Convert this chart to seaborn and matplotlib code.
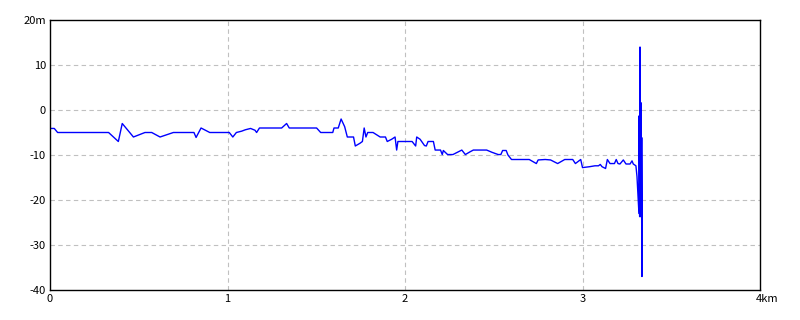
import matplotlib
matplotlib.use("Agg")
import matplotlib.pyplot as plt
import matplotlib.transforms as mtransforms
import seaborn as sns
import pandas as pd

distance_km = [0, 0.024, 0.043, 0.33, 0.385, 0.407, 0.47, 0.535, 0.573, 0.62, 0.695, 0.811, 0.823, 0.851,
               0.90, 1.01, 1.03, 1.05, 1.08, 1.10, 1.13, 1.155, 1.164, 1.18, 1.305, 1.333, 1.348, 1.502,
               1.525, 1.593, 1.60, 1.624, 1.64, 1.66, 1.675, 1.71, 1.72, 1.746, 1.76, 1.77, 1.78, 1.79,
               1.82, 1.86, 1.89, 1.90, 1.925, 1.944, 1.953, 1.96, 2.04, 2.06, 2.066, 2.085, 2.11, 2.12,
               2.13, 2.16, 2.17, 2.20, 2.21, 2.216, 2.24, 2.27, 2.31, 2.32, 2.34, 2.366, 2.385, 2.46,
               2.49, 2.525, 2.54, 2.55, 2.57, 2.58, 2.60, 2.70, 2.74, 2.75, 2.79, 2.82, 2.86, 2.90,
               2.945, 2.96, 2.99, 3.0, 3.04, 3.07, 3.09, 3.10, 3.11, 3.13, 3.14, 3.155, 3.18, 3.19,
               3.20, 3.211, 3.23, 3.245, 3.268, 3.279, 3.286, 3.301, 3.307, 3.318, 3.319, 3.322,
               3.324, 3.327, 3.330, 3.335, 3.336]
elevation_m = [-4.1, -4.1, -5, -5, -7, -3, -6, -5, -5, -6, -5, -5, -6.1, -4,
               -5, -5, -6, -5, -4.7, -4.4, -4.1, -4.5, -5, -4, -4, -3, -4, -4,
               -5, -5, -4, -4, -2, -3.7, -6, -6, -8, -7.4, -7, -4, -6, -5,
               -5, -6, -6, -7, -6.5, -6, -8.9, -7, -7, -8, -6, -6.5, -7.9, -8,
               -7, -7, -8.9, -8.9, -9.9, -9, -9.9, -9.9, -9.1, -8.9, -9.9, -9.3, -8.9, -8.9,
               -9.4, -9.9, -9.9, -9, -9, -10, -11, -11, -11.9, -11.1, -11, -11.1, -11.9, -11,
               -11, -11.9, -11, -12.8, -12.6, -12.4, -12.4, -12.1, -12.6, -13, -11, -11.9, -11.9, -11,
               -11.9, -12, -11.1, -12, -12, -11.3, -12, -12.4, -14.8, -23, -1.3, -23.7,
               14, -23.7, 1.6, -37, -6.2]

x_ticks = [0, 1, 2, 3, 4]
x_labels = ["0", "1", "2", "3", "4km"]
y_ticks = [-40, -30, -20, -10, 0, 10, 20]
y_labels = ["-40", "-30", "-20", "-10", "0", "10", "20m"]

df = pd.DataFrame({"d": distance_km, "e": elevation_m})

sns.set_style("white")
plt.rcParams["font.family"] = ["Noto Sans CJK JP", "DejaVu Sans"]

fig = plt.figure(figsize=(8, 3.2), dpi=100)
ax = fig.add_axes([50 / 800, 30 / 320, 710 / 800, 270 / 320])
sns.lineplot(data=df, x="d", y="e", sort=False, color="#0000ff", linewidth=1.0, ax=ax)

ax.set_xlim(0, 4)
ax.set_ylim(-40, 20)
ax.set_xticks(x_ticks)
ax.set_xticklabels(x_labels)
ax.set_yticks(y_ticks)
ax.set_yticklabels(y_labels)
ax.set_xlabel("")
ax.set_ylabel("")
ax.tick_params(axis="both", length=0, labelsize=8, pad=3, colors="black")

# last x label: the number sits on the tick, the unit extends to the right
last = ax.get_xticklabels()[-1]
last.set_horizontalalignment("left")
last.set_transform(last.get_transform() + mtransforms.ScaledTranslation(-3 / 72, 0, fig.dpi_scale_trans))

for v in [1, 2, 3]:
    ax.axvline(v, color="#c0c0c0", linestyle=(0, (4, 3)), linewidth=0.8, zorder=0)
for v in [-30, -20, -10, 0, 10]:
    ax.axhline(v, color="#c0c0c0", linestyle=(0, (4, 3)), linewidth=0.8, zorder=0)

for s in ax.spines.values():
    s.set_visible(True)
    s.set_color("black")
    s.set_linewidth(1.0)

fig.savefig("out.png", dpi=100, facecolor="white")
